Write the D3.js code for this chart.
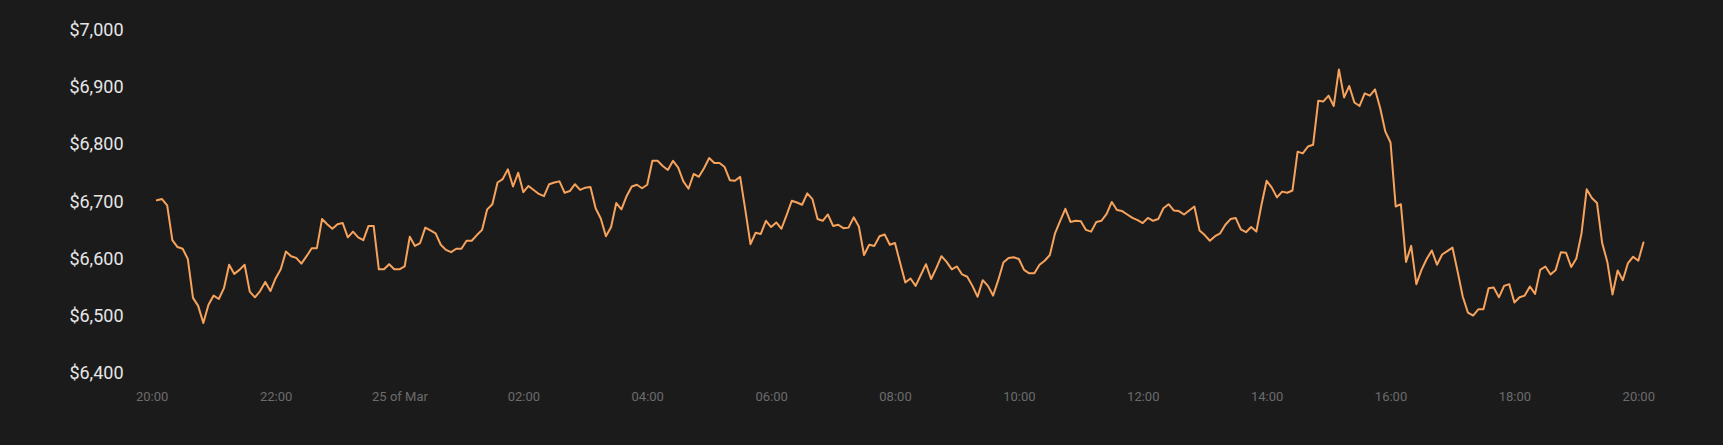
<!DOCTYPE html>
<html><head><meta charset="utf-8">
<script src="https://cdn.jsdelivr.net/npm/d3@7"></script>
<style>html,body{margin:0;padding:0;background:#1c1b1c;overflow:hidden}</style>
</head><body><svg id="chart" width="1723" height="445"></svg>
<script>
// ---- data ----
const startTime = "2020-03-24T20:05:00Z";
const intervalMinutes = 5;
const prices = [
  6702,6704,6693,6632,6620,6617,6599,6531,6517,6487,6519,6535,
  6529,6548,6589,6573,6580,6589,6542,6532,6543,6559,6543,6565,
  6581,6612,6604,6601,6591,6604,6618,6618,6669,6660,6652,6660,
  6662,6637,6647,6637,6632,6657,6657,6581,6581,6590,6581,6581,
  6586,6638,6622,6627,6654,6649,6644,6624,6615,6611,6617,6617,
  6631,6631,6641,6650,6686,6695,6733,6739,6756,6726,6750,6716,
  6727,6720,6713,6709,6730,6733,6735,6715,6718,6730,6720,6724,
  6725,6688,6670,6639,6655,6697,6686,6709,6726,6729,6723,6729,
  6771,6771,6762,6755,6771,6759,6735,6722,6748,6743,6758,6776,
  6767,6767,6760,6737,6736,6743,6685,6625,6645,6643,6666,6655,
  6663,6652,6676,6701,6698,6694,6714,6704,6669,6666,6677,6657,
  6659,6653,6654,6672,6656,6606,6624,6622,6639,6642,6624,6627,
  6592,6558,6565,6552,6571,6590,6564,6583,6604,6594,6581,6586,
  6572,6568,6552,6533,6562,6552,6535,6562,6593,6601,6602,6599,
  6580,6574,6574,6589,6596,6606,6644,6666,6687,6664,6666,6665,
  6650,6647,6664,6666,6678,6699,6685,6683,6677,6671,6667,6662,
  6671,6666,6669,6688,6695,6684,6683,6677,6684,6691,6649,6641,
  6631,6639,6644,6659,6669,6671,6651,6646,6655,6647,6694,6736,
  6724,6707,6717,6715,6719,6787,6784,6796,6799,6876,6875,6885,
  6867,6931,6882,6902,6873,6867,6889,6885,6896,6863,6822,6803,
  6691,6695,6594,6622,6555,6580,6599,6614,6589,6607,6613,6619,
  6577,6533,6505,6500,6511,6511,6548,6549,6532,6552,6555,6523,
  6532,6535,6551,6538,6580,6586,6572,6580,6611,6610,6585,6600,
  6644,6721,6706,6697,6627,6594,6537,6579,6562,6592,6603,6596,
  6628
];
const yTicks = [6400, 6500, 6600, 6700, 6800, 6900, 7000];
const xTicks = [
  "2020-03-24T20:00:00Z","2020-03-24T22:00:00Z","2020-03-25T00:00:00Z",
  "2020-03-25T02:00:00Z","2020-03-25T04:00:00Z","2020-03-25T06:00:00Z",
  "2020-03-25T08:00:00Z","2020-03-25T10:00:00Z","2020-03-25T12:00:00Z",
  "2020-03-25T14:00:00Z","2020-03-25T16:00:00Z","2020-03-25T18:00:00Z",
  "2020-03-25T20:00:00Z"
];

// ---- drawing ----
const W = 1723, H = 445;
const svg = d3.select("#chart");
svg.append("rect").attr("width", W).attr("height", H).attr("fill", "#1c1b1c");

const t0 = new Date(startTime).getTime();
const data = prices.map((v, i) => ({ t: new Date(t0 + i * intervalMinutes * 60000), v }));
const tickDates = xTicks.map(s => new Date(s));

const x = d3.scaleUtc()
  .domain([tickDates[0], tickDates[tickDates.length - 1]])
  .range([151.7, 1638.3]);
const y = d3.scaleLinear().domain([6400, 7000]).range([372.7, 30]);

const dayFmt = d3.utcFormat("%-d of %b");
const hourFmt = d3.utcFormat("%H:%M");

const yAxis = svg.append("g")
  .attr("transform", "translate(123.5,0)")
  .call(d3.axisLeft(y).tickValues(yTicks).tickSize(0).tickPadding(0)
    .tickFormat(d => "$" + d3.format(",")(d)));
yAxis.select(".domain").remove();
yAxis.selectAll("text")
  .attr("fill", "#e6e6e6")
  .style("font-family", "Roboto, 'Open Sans', sans-serif")
  .style("font-size", "18px");

const xAxis = svg.append("g")
  .attr("transform", "translate(0,392)")
  .call(d3.axisBottom(x).tickValues(tickDates).tickSize(0).tickPadding(0)
    .tickFormat(d => (d.getUTCHours() === 0 && d.getUTCMinutes() === 0) ? dayFmt(d) : hourFmt(d)));
xAxis.select(".domain").remove();
xAxis.selectAll("text")
  .attr("fill", "#6b6b6b")
  .style("font-family", "Roboto, 'Open Sans', sans-serif")
  .style("font-size", "13px");

const line = d3.line().x(d => x(d.t)).y(d => y(d.v));
svg.append("path")
  .datum(data)
  .attr("d", line)
  .attr("fill", "none")
  .attr("stroke", "#f7a35c")
  .attr("stroke-width", 2)
  .attr("stroke-linejoin", "round")
  .attr("stroke-linecap", "round");
</script>
</body></html>
